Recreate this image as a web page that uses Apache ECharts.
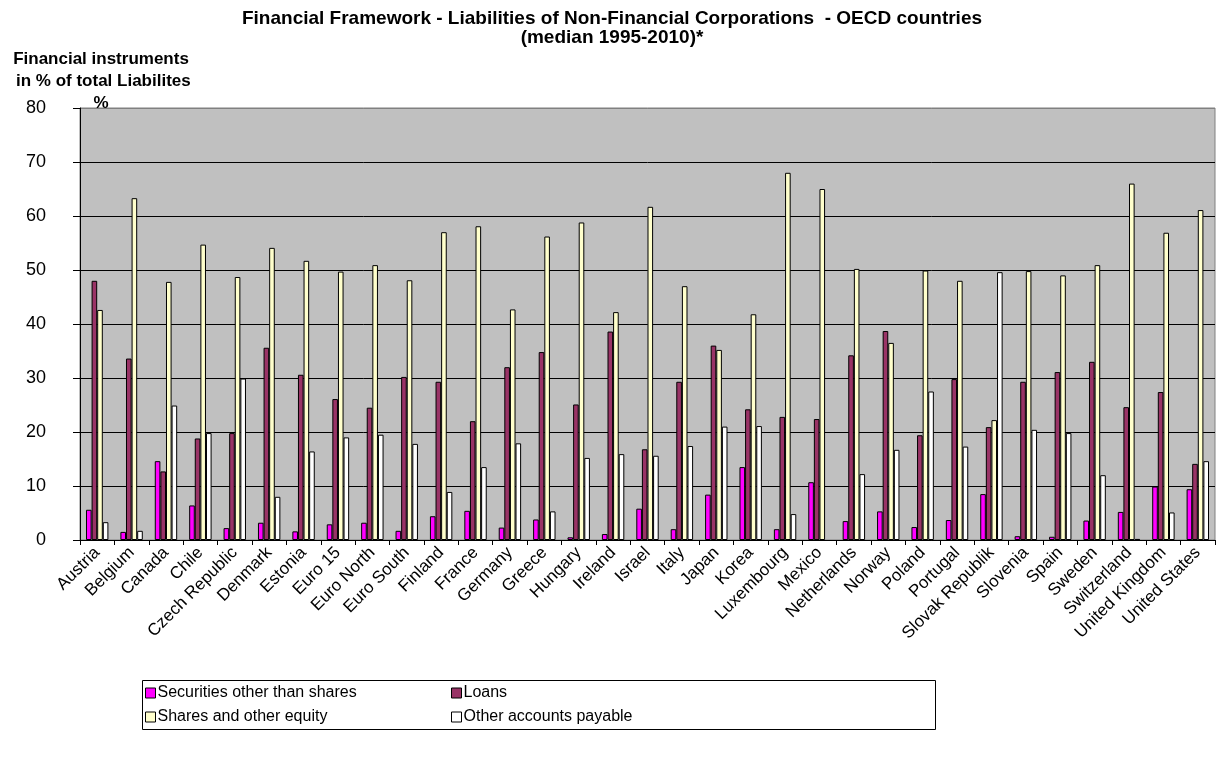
<!DOCTYPE html>
<html>
<head>
<meta charset="utf-8">
<title>Financial Framework - Liabilities of Non-Financial Corporations</title>
<script src="https://cdn.jsdelivr.net/npm/echarts@6/dist/echarts.min.js"></script>
<style>
  html, body { margin: 0; padding: 0; background: #ffffff; }
  #chart { width: 1224px; height: 758px; }
</style>
</head>
<body>
<div id="chart"></div>
<script>
// Countries / aggregates on the category axis
var countries = ['Austria', 'Belgium', 'Canada', 'Chile', 'Czech Republic', 'Denmark', 'Estonia',
  'Euro 15', 'Euro North', 'Euro South', 'Finland', 'France', 'Germany', 'Greece', 'Hungary',
  'Ireland', 'Israel', 'Italy', 'Japan', 'Korea', 'Luxembourg', 'Mexico', 'Netherlands', 'Norway',
  'Poland', 'Portugal', 'Slovak Republik', 'Slovenia', 'Spain', 'Sweden', 'Switzerland',
  'United Kingdom', 'United States'];

// Share of each instrument in total liabilities, % (median 1995-2010)
var securities = [5.6, 1.5, 14.6, 6.4, 2.2, 3.2, 1.6, 2.9, 3.2, 1.7, 4.4, 5.4, 2.3, 3.8, 0.5,
  1.1, 5.8, 2.0, 8.4, 13.5, 2.0, 10.7, 3.5, 5.3, 2.4, 3.7, 8.5, 0.7, 0.6, 3.6, 5.2, 9.9, 9.4];
var loans = [48.0, 33.6, 12.7, 18.8, 19.8, 35.6, 30.6, 26.1, 24.5, 30.2, 29.3, 22.0, 32.0, 34.8, 25.1,
  38.6, 16.8, 29.3, 36.0, 24.2, 22.8, 22.4, 34.2, 38.7, 19.4, 29.8, 20.9, 29.3, 31.1, 33.0, 24.6, 27.4, 14.1];
var shares = [42.6, 63.3, 47.8, 54.7, 48.7, 54.1, 51.7, 49.7, 50.9, 48.1, 57.0, 58.1, 42.7, 56.2, 58.8,
  42.2, 61.7, 47.0, 35.2, 41.8, 68.0, 65.0, 50.2, 36.5, 49.9, 48.0, 22.2, 49.8, 49.0, 50.9, 66.0, 56.9, 61.1];
var otherPayable = [3.3, 1.7, 24.9, 19.8, 29.9, 8.0, 16.4, 19.0, 19.5, 17.8, 8.9, 13.5, 17.9, 5.3, 15.2,
  15.9, 15.6, 17.4, 21.0, 21.1, 4.8, null, 12.2, 16.7, 27.5, 17.3, 49.6, 20.4, 19.8, 12.0, 0.2, 5.1, 14.6];

// Value axis ticks
var yMin = 0, yMax = 80, yStep = 10;

var seriesNames = ['Securities other than shares', 'Loans', 'Shares and other equity', 'Other accounts payable'];
var seriesColors = ['#FF00FF', '#993366', '#FFFFCC', '#FFFFFF'];
var seriesData = [securities, loans, shares, otherPayable];

var FONT = 'Arial, "Liberation Sans", Helvetica, sans-serif';

var chart = echarts.init(document.getElementById('chart'), null, { renderer: 'canvas' });

var series = seriesNames.map(function (name, i) {
  return {
    name: name,
    type: 'bar',
    data: seriesData[i],
    barWidth: 5.6,
    barGap: '0%',
    itemStyle: { color: seriesColors[i], borderColor: '#000000', borderWidth: 1 },
    emphasis: { disabled: true },
    animation: false
  };
});

// Grid line colours: black lines, grey along the top border
var gridLineColors = [];
for (var v = yMin; v <= yMax; v += yStep) {
  gridLineColors.push(v === yMax ? '#808080' : '#000000');
}

// One legend block per entry so the entries line up in two columns
function legendAt(idx, left, top) {
  return {
    data: [{
      name: seriesNames[idx],
      icon: 'rect',
      itemStyle: { color: seriesColors[idx], borderColor: '#000000', borderWidth: 1 }
    }],
    left: left,
    top: top,
    padding: 0,
    itemWidth: 10,
    itemHeight: 10,
    itemGap: 0,
    selectedMode: false,
    textStyle: { fontFamily: FONT, fontSize: 16, color: '#000000', padding: [0, 0, 0, -3] }
  };
}

chart.setOption({
  backgroundColor: '#ffffff',
  animation: false,
  title: {
    text: 'Financial Framework - Liabilities of Non-Financial Corporations  - OECD countries\n(median 1995-2010)*',
    left: 'center',
    top: 4,
    textStyle: { fontFamily: FONT, fontSize: 19, fontWeight: 'bold', color: '#000000', lineHeight: 19 }
  },
  grid: {
    left: 80,
    right: 9,
    top: 108,
    bottom: 218,
    show: true,
    backgroundColor: '#C0C0C0',
    borderColor: '#808080',
    borderWidth: 1
  },
  xAxis: {
    type: 'category',
    data: countries,
    boundaryGap: true,
    axisLine: { show: true, lineStyle: { color: '#000000', width: 1 } },
    axisTick: { show: true, length: 5, lineStyle: { color: '#000000' } },
    axisLabel: { interval: 0, rotate: 45, margin: 10, fontFamily: FONT, fontSize: 17, color: '#000000' },
    splitLine: { show: false }
  },
  yAxis: {
    type: 'value',
    min: yMin,
    max: yMax,
    interval: yStep,
    axisLine: { show: true, lineStyle: { color: '#000000', width: 1 } },
    axisTick: { show: true, length: 7, lineStyle: { color: '#000000' } },
    axisLabel: { margin: 34, fontFamily: FONT, fontSize: 18, color: '#000000' },
    splitLine: { show: true, lineStyle: { color: gridLineColors, width: 1 } }
  },
  legend: [
    legendAt(0, 145, 685),
    legendAt(1, 451, 685),
    legendAt(2, 145, 709),
    legendAt(3, 451, 709)
  ],
  graphic: [
    {
      type: 'text',
      x: 101,
      y: 48,
      style: {
        text: 'Financial instruments\n in % of total Liabilites\n%',
        fontFamily: FONT,
        fontSize: 17,
        fontWeight: 'bold',
        lineHeight: 22,
        fill: '#000000',
        align: 'center',
        verticalAlign: 'top'
      }
    },
    {
      type: 'rect',
      shape: { x: 142.5, y: 680.5, width: 793, height: 49 },
      style: { fill: 'none', stroke: '#000000', lineWidth: 1 },
      z: -1
    }
  ],
  series: series
});
</script>
</body>
</html>
